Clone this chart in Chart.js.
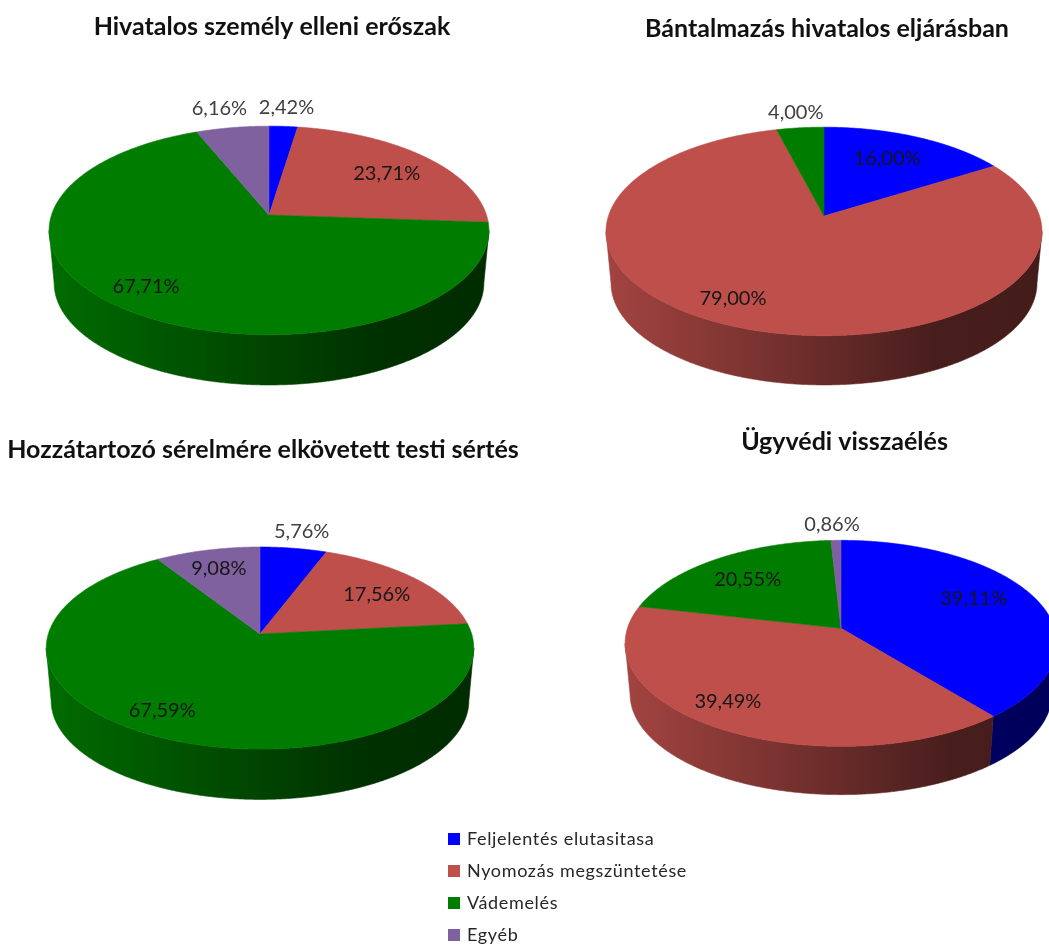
<!DOCTYPE html>
<html lang="hu">
<head>
<meta charset="utf-8">
<title>Ügyek megoszlása</title>
<script src="https://cdn.jsdelivr.net/npm/chart.js@4"></script>
<style>
    html, body { margin: 0; height: 100%; overflow: hidden; background: #fff; }
    canvas { position: absolute; filter: blur(0.4px); }
    #legenda { position: absolute; left: 448px; top: 822px; font: 18px Lato, sans-serif; color: #262626; filter: blur(0.4px); }
    #legenda div { height: 32px; line-height: 32px; white-space: nowrap; letter-spacing: 0.65px; }
    #legenda i { display: inline-block; width: 12px; height: 12px; margin-right: 7px; }
</style>
</head>
<body>
<canvas id="pie1" width="544" height="400" style="left:0;top:0"></canvas>
<canvas id="pie2" width="534" height="400" style="left:560px;top:2px"></canvas>
<canvas id="pie3" width="526" height="400" style="left:0;top:423px"></canvas>
<canvas id="pie4" width="489" height="400" style="left:600px;top:415px"></canvas>
<div id="legenda"></div>
<script>
const kategoriak = ['Feljelentés elutasitasa', 'Nyomozás megszüntetése', 'Vádemelés', 'Egyéb'];
const szinek = ['#0000FF', '#BE4F4B', '#007D00', '#7F619F'];

const hivatalosSzemely = [2.42, 23.71, 67.71, 6.16];
const bantalmazas = [16.00, 79.00, 4.00, 0];
const hozzatartozo = [5.76, 17.56, 67.59, 9.08];
const ugyvedi = [39.11, 39.49, 20.55, 0.86];

// sotetites a palast bal szeletol a jobb szeleig
const palastFeny = [[0, 0.86], [0.35, 0.64], [0.75, 0.38], [1, 0.35]];

function sotetit(hex, f) {
    const n = parseInt(hex.slice(1), 16);
    return `rgb(${Math.round((n >> 16) * f)},${Math.round(((n >> 8) & 255) * f)},${Math.round((n & 255) * f)})`;
}

// kor pontja a dontott, perspektivikus lapon (a csucs az origo)
function vetit(phi, f, A, R, k) {
    const u = Math.cos(phi) * f;
    const v = Math.sin(phi) * f;
    const d = 1 - k * v;
    return { x: A * u / d, y: R * v / d };
}

const dontottTorta = {
    id: 'dontottTorta',
    beforeDatasetsDraw(chart, args, o) {
        const ctx = chart.ctx;
        const elemek = chart.getDatasetMeta(0).data;
        const cx = elemek[0].x + o.eltolasX;
        const cy = elemek[0].y;
        const A = elemek[0].outerRadius;
        const R = A * o.lapitas;
        const k = o.perspektiva;
        const latszoEleje = Math.asin(k);
        const latszoVege = Math.PI - latszoEleje;
        const L = 1.4 / A;

        ctx.save();
        ctx.translate(cx, cy);
        ctx.lineWidth = 0.6;
        ctx.lineJoin = 'round';

        // palast
        elemek.forEach(el => {
            const a = Math.max(el.startAngle, latszoEleje);
            const b = Math.min(el.endAngle, latszoVege);
            if (b <= a) return;
            const szin = el.options.backgroundColor;
            const g = ctx.createLinearGradient(-A * 1.02, 0, A * 1.02, 0);
            palastFeny.forEach(([p, f]) => g.addColorStop(p, sotetit(szin, f)));
            const n = Math.max(2, Math.ceil((b - a) / L));
            ctx.beginPath();
            for (let i = 0; i <= n; i++) {
                const p = vetit(a + (b - a) * i / n, 1, A, R, k);
                ctx.lineTo(p.x, p.y);
            }
            for (let i = n; i >= 0; i--) {
                const p = vetit(a + (b - a) * i / n, 1, A, R, k);
                ctx.lineTo(p.x * o.alsoSkala, p.y * o.alsoSkala + o.melyseg);
            }
            ctx.closePath();
            ctx.fillStyle = g;
            ctx.strokeStyle = g;
            ctx.fill();
            ctx.stroke();
        });

        // fedlap
        elemek.forEach(el => {
            if (el.endAngle - el.startAngle <= 0) return;
            const n = Math.max(2, Math.ceil((el.endAngle - el.startAngle) / L));
            ctx.beginPath();
            ctx.moveTo(0, 0);
            for (let i = 0; i <= n; i++) {
                const p = vetit(el.startAngle + (el.endAngle - el.startAngle) * i / n, 1, A, R, k);
                ctx.lineTo(p.x, p.y);
            }
            ctx.closePath();
            ctx.fillStyle = el.options.backgroundColor;
            ctx.strokeStyle = el.options.backgroundColor;
            ctx.fill();
            ctx.stroke();
        });

        // szazalekok
        ctx.font = '20px Lato, sans-serif';
        ctx.textAlign = 'center';
        ctx.textBaseline = 'middle';
        const ertekek = chart.data.datasets[0].data;
        elemek.forEach((el, i) => {
            if (!ertekek[i]) return;
            const [f, dx, dy] = o.cimkek[i];
            const p = vetit((el.startAngle + el.endAngle) / 2, f, A, R, k);
            ctx.fillStyle = f > 1 ? '#404040' : '#161616';
            ctx.fillText(ertekek[i].toFixed(2).replace('.', ',') + '%', p.x + dx, p.y + dy);
        });
        ctx.restore();
        return false;
    }
};

function tortaRajz(id, cim, ertekek, sugar, also, geo) {
    return new Chart(document.getElementById(id), {
        type: 'pie',
        data: {
            labels: kategoriak,
            datasets: [{ data: ertekek, backgroundColor: szinek, radius: sugar, borderWidth: 0 }]
        },
        options: {
            responsive: false,
            animation: false,
            events: [],
            layout: { padding: { bottom: also } },
            plugins: {
                legend: { display: false },
                tooltip: { enabled: false },
                title: {
                    display: true,
                    text: cim,
                    color: '#111',
                    font: { family: 'Lato, sans-serif', size: 25, weight: 'bold', lineHeight: 1.2 },
                    padding: { top: 12, bottom: 4.4 }
                },
                dontottTorta: geo
            }
        },
        plugins: [dontottTorta]
    });
}

tortaRajz('pie1', 'Hivatalos személy elleni erőszak', hivatalosSzemely, 217.5, 16.4, {
    eltolasX: -3, lapitas: 0.469, perspektiva: 0.148, melyseg: 53, alsoSkala: 0.977,
    cimkek: [[1.26, 0, 1], [0.74, 0, 3], [0.8, -10, -2], [1.26, -5, 0]]
});
tortaRajz('pie2', 'Bántalmazás hivatalos eljárásban', bantalmazas, 215.6, 18.4, {
    eltolasX: -3, lapitas: 0.473, perspektiva: 0.148, melyseg: 52, alsoSkala: 0.977,
    cimkek: [[0.72, -6, 1], [0.77, -22, 1], [1.22, 0, 1], [1, 0, 0]]
});
tortaRajz('pie3', 'Hozzátartozó sérelmére elkövetett testi sértés', hozzatartozo, 211.7, 24.4, {
    eltolasX: -3, lapitas: 0.468, perspektiva: 0.139, melyseg: 53, alsoSkala: 0.977,
    cimkek: [[1.25, 1, 2], [0.72, 3, 2], [0.75, -22, 3], [0.76, 0, 0]]
});
tortaRajz('pie4', 'Ügyvédi visszaélés', ugyvedi, 213.6, 19.8, {
    eltolasX: -3.5, lapitas: 0.472, perspektiva: 0.146, melyseg: 51, alsoSkala: 0.977,
    cimkek: [[0.65, 6, -8], [0.8, -13, -3], [0.7, -4, 1], [1.22, -3, 1]]
});

const legenda = document.getElementById('legenda');
kategoriak.forEach((nev, i) => {
    const sor = document.createElement('div');
    const negyzet = document.createElement('i');
    negyzet.style.background = szinek[i];
    sor.appendChild(negyzet);
    sor.appendChild(document.createTextNode(nev));
    legenda.appendChild(sor);
});
</script>
</body>
</html>
